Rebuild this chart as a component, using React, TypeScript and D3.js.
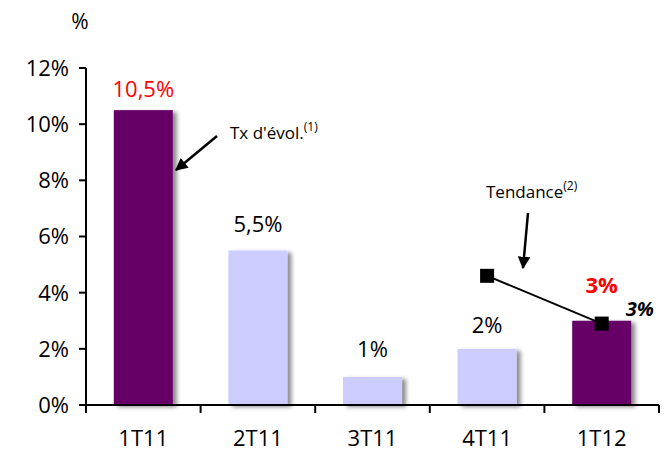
import React from "react";
import * as d3 from "d3";

const categories = ["1T11", "2T11", "3T11", "4T11", "1T12"];
const values = [10.5, 5.5, 1, 2, 3];
const valueLabels = ["10,5%", "5,5%", "1%", "2%", "3%"];
const highlighted = [true, false, false, false, true];
const trendCategories = ["4T11", "1T12"];
const trendValues = [4.6, 2.9];
const yTicks = [0, 2, 4, 6, 8, 10, 12];
const labelGap = [13, 19, 20, 16, 28];

const W = 670;
const H = 451;
const M = { left: 86, right: 11, top: 68, bottom: 46 };
const FONT = "'Open Sans', sans-serif";

export default function App() {
  const x = d3
    .scaleBand<string>()
    .domain(categories)
    .range([M.left, W - M.right])
    .padding(0);
  const y = d3
    .scaleLinear()
    .domain([0, 12])
    .range([H - M.bottom, M.top]);
  const barW = x.bandwidth() * 0.515;
  const y0 = y(0);

  const line = d3
    .line<number>()
    .x((_, i) => (x(trendCategories[i]) as number) + x.bandwidth() / 2)
    .y((d) => y(d));

  const trendPts = trendValues.map((v, i) => ({
    cx: (x(trendCategories[i]) as number) + x.bandwidth() / 2,
    cy: y(v),
  }));

  return (
    <svg
      width={W}
      height={H}
      style={{ position: "absolute", left: 0, top: 0, background: "#fff" }}
      fontFamily={FONT}
    >
      <defs>
        <filter id="shadow" x="-20%" y="-20%" width="150%" height="150%">
          <feDropShadow dx="4" dy="2" stdDeviation="2" floodColor="#000" floodOpacity="0.45" />
        </filter>
        <marker id="arrow" viewBox="0 0 10 10" refX="9" refY="5" markerWidth="5" markerHeight="5" orient="auto">
          <path d="M0,0 L10,5 L0,10 z" fill="#000" />
        </marker>
      </defs>

      {/* bars */}
      {categories.map((c, i) => {
        const cx = (x(c) as number) + x.bandwidth() / 2;
        return (
          <rect
            key={c}
            x={cx - barW / 2}
            y={y(values[i])}
            width={barW}
            height={y0 - y(values[i])}
            fill={highlighted[i] ? "#660066" : "#CCCCFF"}
            filter="url(#shadow)"
          />
        );
      })}

      {/* y axis */}
      <line x1={M.left} x2={M.left} y1={y(12)} y2={y0 + 8} stroke="#000" strokeWidth={2} />
      {yTicks.map((t) => (
        <g key={t}>
          <line x1={M.left - 7} x2={M.left} y1={y(t)} y2={y(t)} stroke="#000" strokeWidth={2} />
          <text x={M.left - 17} y={y(t)} dy="0.36em" textAnchor="end" fontSize={22} fill="#000">
            {t}%
          </text>
        </g>
      ))}
      <text x={80} y={29} textAnchor="middle" fontSize={21} fill="#000">%</text>

      {/* x axis */}
      <line x1={M.left - 6} x2={W - M.right} y1={y0} y2={y0} stroke="#000" strokeWidth={2} />
      {categories.map((c) => (
        <line key={c} x1={x(c) as number} x2={x(c) as number} y1={y0} y2={y0 + 8} stroke="#000" strokeWidth={2} />
      ))}
      <line x1={W - M.right} x2={W - M.right} y1={y0} y2={y0 + 8} stroke="#000" strokeWidth={2} />
      {categories.map((c) => (
        <text
          key={c}
          x={(x(c) as number) + x.bandwidth() / 2}
          y={y0 + 41}
          textAnchor="middle"
          fontSize={22}
          fill="#000"
        >
          {c}
        </text>
      ))}

      {/* value labels */}
      {categories.map((c, i) => (
        <text
          key={c}
          x={(x(c) as number) + x.bandwidth() / 2}
          y={y(values[i]) - labelGap[i]}
          textAnchor="middle"
          fontSize={22}
          fontWeight={i === 4 ? "bold" : "normal"}
          fill={highlighted[i] ? "#FF0000" : "#000"}
        >
          {valueLabels[i]}
        </text>
      ))}

      {/* trend line */}
      <path d={line(trendValues) as string} fill="none" stroke="#000" strokeWidth={2} />
      {trendPts.map((p, i) => (
        <rect key={i} x={p.cx - 7} y={p.cy - 7} width={14} height={14} fill="#000" />
      ))}
      <text
        x={trendPts[1].cx + 38}
        y={trendPts[1].cy - 8}
        textAnchor="middle"
        fontSize={20}
        fontWeight="bold"
        fontStyle="italic"
        fill="#000"
      >
        {`${Math.round(trendValues[1])}%`}
      </text>

      {/* annotations */}
      <line x1={217} y1={136} x2={176} y2={170} stroke="#000" strokeWidth={2.5} markerEnd="url(#arrow)" />
      <text x={230} y={139} fontSize={17} fill="#000">
        Tx d'évol.
        <tspan fontSize={12} dy={-8}>(1)</tspan>
      </text>
      <line x1={528} y1={213} x2={523} y2={268} stroke="#000" strokeWidth={2.5} markerEnd="url(#arrow)" />
      <text x={486} y={198} fontSize={17} fill="#000">
        Tendance
        <tspan fontSize={12} dy={-8}>(2)</tspan>
      </text>
    </svg>
  );
}
